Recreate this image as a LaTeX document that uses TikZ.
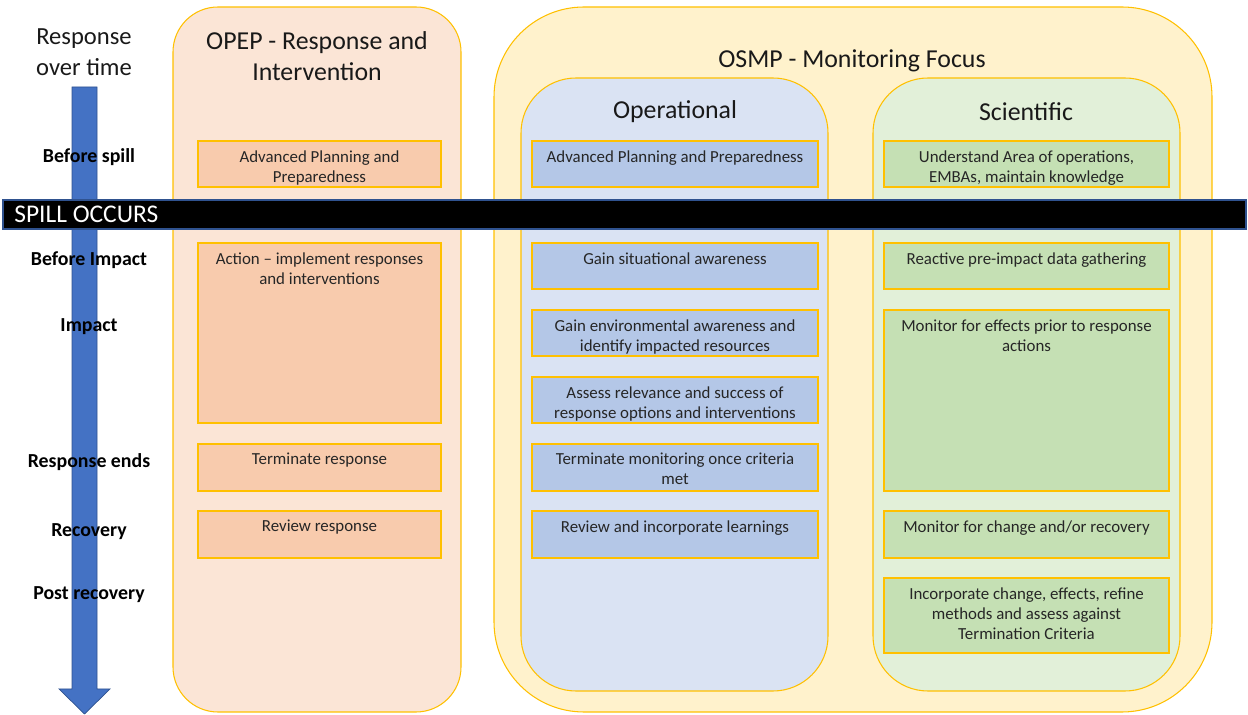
\documentclass[tikz,border=0pt]{standalone}
\usepackage{fontspec}
\setmainfont{Carlito}
\usepackage{xcolor}
\usepackage{tikz}
\usetikzlibrary{positioning,calc}

\definecolor{gold}{HTML}{FFC000}
\definecolor{arrowblue}{HTML}{4472C4}
\definecolor{arrowedge}{HTML}{2F528F}
\definecolor{opepfill}{HTML}{FBE5D6}
\definecolor{opepdark}{HTML}{F8CBAD}
\definecolor{osmpfill}{HTML}{FFF2CC}
\definecolor{opfill}{HTML}{DAE3F3}
\definecolor{opdark}{HTML}{B4C7E7}
\definecolor{scifill}{HTML}{E2F0D9}
\definecolor{scidark}{HTML}{C5E0B4}
\definecolor{txtgray}{HTML}{262626}

\tikzset{
  panel/.style={draw=gold, line width=0.6pt},
  opepbox/.style={draw=gold, line width=0.7pt, fill=opepdark},
  opbox/.style={draw=gold, line width=0.7pt, fill=opdark},
  scibox/.style={draw=gold, line width=0.7pt, fill=scidark},
  boxtxt/.style={anchor=north, align=center, inner sep=0pt, text=txtgray,
    font=\fontsize{9.6}{11.4}\selectfont},
  heading/.style={align=center, inner sep=0pt, text=black!90,
    font=\fontsize{14.7}{17.6}\selectfont},
  stage/.style={inner sep=0pt, font=\bfseries\fontsize{11.3}{13}\selectfont},
}

\begin{document}
\begin{tikzpicture}[x=0.02cm,y=-0.02cm]
    \useasboundingbox (0,0) rectangle (1248,715);
    % time arrow
    \filldraw[fill=arrowblue, draw=arrowedge, line width=0.4pt]
        (72,87) -- (97,87) -- (97,689) -- (110,689) -- (84.5,714) -- (59,689) -- (72,689) -- cycle;
    \node[heading, font=\fontsize{14}{17.6}\selectfont] (rtime) at (84,52) {Response\\over time};

    % panels
    \draw[panel, fill=opepfill, rounded corners=0.9cm] (173,7) rectangle (461,712);
    \node[heading] (opep) at (317,56) {OPEP - Response and\\Intervention};
    \draw[panel, fill=osmpfill, rounded corners=1.8cm] (494,7) rectangle (1212,712);
    \node[heading] (osmp) at (852,61) {OSMP - Monitoring Focus};
    \draw[panel, fill=opfill, rounded corners=1.1cm] (521,78) rectangle (828,691);
    \node[heading] (oper) at (675,112) {Operational};
    \draw[panel, fill=scifill, rounded corners=1.1cm] (873,78) rectangle (1180,691);
    \node[heading] (sci) at (1026,112) {Scientific};

    % OPEP boxes
    \foreach \ya/\yb/\txt [count=\i] in {141/187/{Advanced Planning and\\Preparedness},
        243/423/{Action – implement responses\\and interventions},
        444/491/{Terminate response}, 511/558/{Review response}} {
        \draw[opepbox] (198,\ya) rectangle (441,\yb);
        \node[boxtxt] (opep\i) at (319.5,\ya+9) {\txt};
    }
    % operational boxes
    \foreach \ya/\yb/\txt [count=\i] in {141/187/{Advanced Planning and Preparedness},
        243/289/{Gain situational awareness},
        310/356/{Gain environmental awareness and\\identify impacted resources},
        377/423/{Assess relevance and success of\\response options and interventions},
        444/491/{Terminate monitoring once criteria\\met},
        511/558/{Review and incorporate learnings}} {
        \draw[opbox] (532,\ya) rectangle (818,\yb);
        \node[boxtxt] (op\i) at (675,\ya+9) {\txt};
    }
    % scientific boxes
    \foreach \ya/\yb/\txt [count=\i] in {141/187/{Understand Area of operations,\\EMBAs, maintain knowledge},
        243/289/{Reactive pre-impact data gathering},
        310/491/{Monitor for effects prior to response\\actions},
        511/558/{Monitor for change and/or recovery},
        578/653/{Incorporate change, effects, refine\\methods and assess against\\Termination Criteria}} {
        \draw[scibox] (884,\ya) rectangle (1169,\yb);
        \node[boxtxt] (sci\i) at (1026.5,\ya+9) {\txt};
    }

    % spill bar
    \draw[fill=black, draw=arrowedge, line width=0.8pt] (3,200) rectangle (1246,229);
    \node[anchor=west, inner sep=0pt, text=white, font=\fontsize{14.5}{16}\selectfont] (spill) at (14,214.5) {SPILL OCCURS};

    % stages
    \foreach \y/\lab [count=\i] in {157/Before spill, 260/Before Impact, 327/Impact,
        462/Response ends, 532/Recovery, 595/Post recovery}
        \node[stage] (stage\i) at (89,\y) {\lab};
\end{tikzpicture}
\end{document}
